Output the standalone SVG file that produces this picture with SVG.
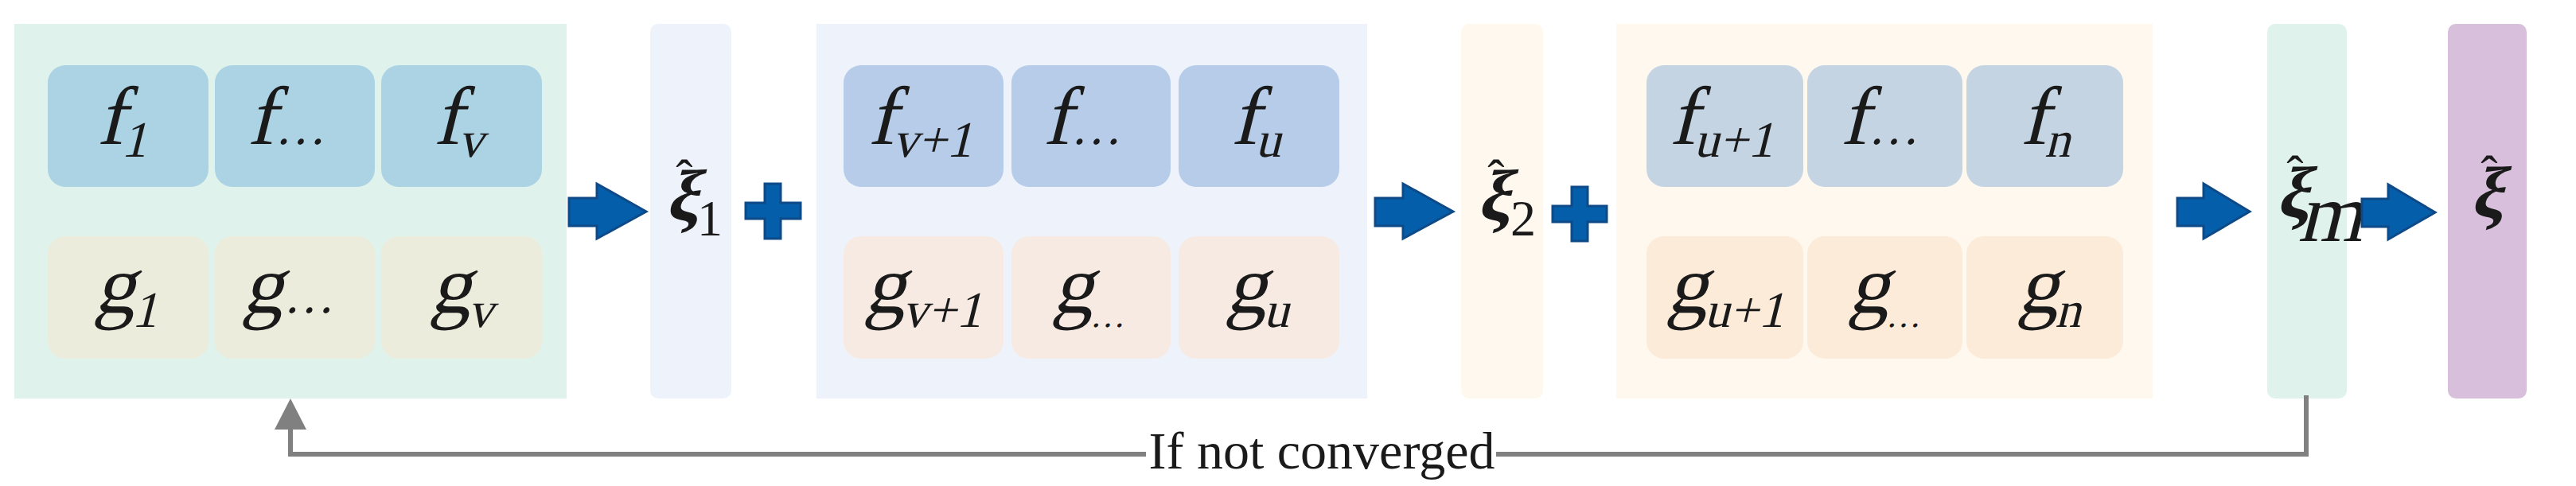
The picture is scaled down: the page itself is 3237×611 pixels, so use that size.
<svg xmlns="http://www.w3.org/2000/svg" width="3237" height="611" viewBox="0 0 3237 611">
<defs><style>
.t{font-family:"Liberation Serif","Times New Roman",serif;font-style:normal;fill:#1a1a1a;text-anchor:middle;font-size:104px}
.s{font-size:64px}
.x{font-family:"Liberation Serif","Times New Roman",serif;font-weight:bold;font-size:90px;fill:#1a1a1a;text-anchor:middle}
.h{font-family:"Liberation Serif",serif;font-size:64px;fill:#1a1a1a;text-anchor:middle}
.ar{fill:#055ea9;stroke:#0e4a87;stroke-width:3}
.cell{rx:22}
</style></defs>
<g id="group1"><rect x="18" y="30" width="694" height="471" fill="#e0f2ec"/>
<rect class="cell" x="60" y="82" width="202" height="153" fill="#acd3e3"/>
<rect class="cell" x="270" y="82" width="201" height="153" fill="#acd3e3"/>
<rect class="cell" x="479" y="82" width="202" height="153" fill="#acd3e3"/>
<rect class="cell" x="60" y="297" width="202" height="154" fill="#ebecdc"/>
<rect class="cell" x="270" y="297" width="201" height="154" fill="#ebecdc"/>
<rect class="cell" x="479" y="297" width="202" height="154" fill="#ebecdc"/>
<g transform="translate(155,181) skewX(-14)"><text class="t">f<tspan class="s" dy="16">1</tspan></text></g>
<g transform="translate(360,181) skewX(-14)"><text class="t">f<tspan class="s">…</tspan></text></g>
<g transform="translate(578,181) skewX(-14)"><text class="t">f<tspan class="s" dy="16">v</tspan></text></g>
<g transform="translate(160,393) skewX(-14)"><text class="t">g<tspan class="s" dy="18">1</tspan></text></g>
<g transform="translate(362,393) skewX(-14)"><text class="t">g<tspan class="s">…</tspan></text></g>
<g transform="translate(582,393) skewX(-14)"><text class="t">g<tspan class="s" dy="18">v</tspan></text></g>
</g>
<g id="xi1"><rect x="817" y="30" width="102" height="471" rx="10" fill="#eef3fb"/>
<text class="h" x="860" y="245">ˆ</text>
<g transform="translate(856,276) skewX(-14)"><text class="x">ξ</text></g>
<text class="h" x="892" y="296" font-size="54">1</text></g>
<g id="group2"><rect x="1026" y="30" width="692" height="471" fill="#eef3fb"/>
<rect class="cell" x="1060" y="82" width="201" height="153" fill="#b6cce9"/>
<rect class="cell" x="1271" y="82" width="200" height="153" fill="#b6cce9"/>
<rect class="cell" x="1481" y="82" width="202" height="153" fill="#b6cce9"/>
<rect class="cell" x="1060" y="297" width="201" height="154" fill="#f7eae3"/>
<rect class="cell" x="1271" y="297" width="200" height="154" fill="#f7eae3"/>
<rect class="cell" x="1481" y="297" width="202" height="154" fill="#f7eae3"/>
<g transform="translate(1158,181) skewX(-14)"><text class="t">f<tspan class="s" dy="16">v+1</tspan></text></g>
<g transform="translate(1360,181) skewX(-14)"><text class="t">f<tspan class="s">…</tspan></text></g>
<g transform="translate(1580,181) skewX(-14)"><text class="t">f<tspan class="s" dy="16">u</tspan></text></g>
<g transform="translate(1162,393) skewX(-14)"><text class="t">g<tspan class="s" dy="18">v+1</tspan></text></g>
<g transform="translate(1370,393) skewX(-14)"><text class="t">g<tspan font-size="44" dy="18">…</tspan></text></g>
<g transform="translate(1582,393) skewX(-14)"><text class="t">g<tspan class="s" dy="18">u</tspan></text></g>
</g>
<g id="xi2"><rect x="1836" y="30" width="103" height="471" rx="10" fill="#fef8ee"/>
<text class="h" x="1880" y="245">ˆ</text>
<g transform="translate(1876,276) skewX(-14)"><text class="x">ξ</text></g>
<text class="h" x="1914" y="296" font-size="54">2</text></g>
<g id="group3"><rect x="2031" y="30" width="674" height="471" fill="#fef8ee"/>
<rect class="cell" x="2069" y="82" width="197" height="153" fill="#c5d4e3"/>
<rect class="cell" x="2271" y="82" width="195" height="153" fill="#c5d4e3"/>
<rect class="cell" x="2471" y="82" width="197" height="153" fill="#c5d4e3"/>
<rect class="cell" x="2069" y="297" width="197" height="154" fill="#fdebd9"/>
<rect class="cell" x="2271" y="297" width="195" height="154" fill="#fdebd9"/>
<rect class="cell" x="2471" y="297" width="197" height="154" fill="#fdebd9"/>
<g transform="translate(2165,181) skewX(-14)"><text class="t">f<tspan class="s" dy="16">u+1</tspan></text></g>
<g transform="translate(2362,181) skewX(-14)"><text class="t">f<tspan class="s">…</tspan></text></g>
<g transform="translate(2572,181) skewX(-14)"><text class="t">f<tspan class="s" dy="16">n</tspan></text></g>
<g transform="translate(2170,393) skewX(-14)"><text class="t">g<tspan class="s" dy="18">u+1</tspan></text></g>
<g transform="translate(2370,393) skewX(-14)"><text class="t">g<tspan font-size="44" dy="18">…</tspan></text></g>
<g transform="translate(2577,393) skewX(-14)"><text class="t">g<tspan class="s" dy="18">n</tspan></text></g>
</g>
<g id="xim"><rect x="2849" y="30" width="100" height="471" rx="10" fill="#e0f2ec"/>
<text class="h" x="2884" y="240">ˆ</text>
<g transform="translate(2880,272) skewX(-14)"><text class="x">ξ</text></g>
<g transform="translate(2928,303) skewX(-14)"><text class="t" font-size="58">m</text></g></g>
<g id="xi"><rect x="3076" y="30" width="99" height="471" rx="10" fill="#d8bfdc"/>
<text class="h" x="3128" y="240">ˆ</text>
<g transform="translate(3124,272) skewX(-14)"><text class="x">ξ</text></g></g>
<g id="connectors">
<path class="ar" d="M715,249H750V231L812,266L750,300V284H715Z"/>
<path class="ar" d="M1728,249H1763V231L1826,266L1763,300V284H1728Z"/>
<path class="ar" d="M2736,249H2769V231L2827,266L2769,300V284H2736Z"/>
<path class="ar" d="M2968,250H3001V232L3060,267L3001,301V285H2968Z"/>
<path class="ar" d="M961,231H981V255H1006V275H981V300H961V275H937V255H961Z"/>
<path class="ar" d="M1975,235H1995V259H2019V279H1995V303H1975V279H1951V259H1975Z"/>
<path d="M2898,497V571H1880M1440,571H365V540" fill="none" stroke="#808080" stroke-width="6"/>
<path d="M365,501L385,540H345Z" fill="#808080"/>
<text x="1661" y="589" font-family="Liberation Serif,serif" font-size="66" fill="#1a1a1a" text-anchor="middle" textLength="435" lengthAdjust="spacingAndGlyphs">If not converged</text>
</g>
</svg>
